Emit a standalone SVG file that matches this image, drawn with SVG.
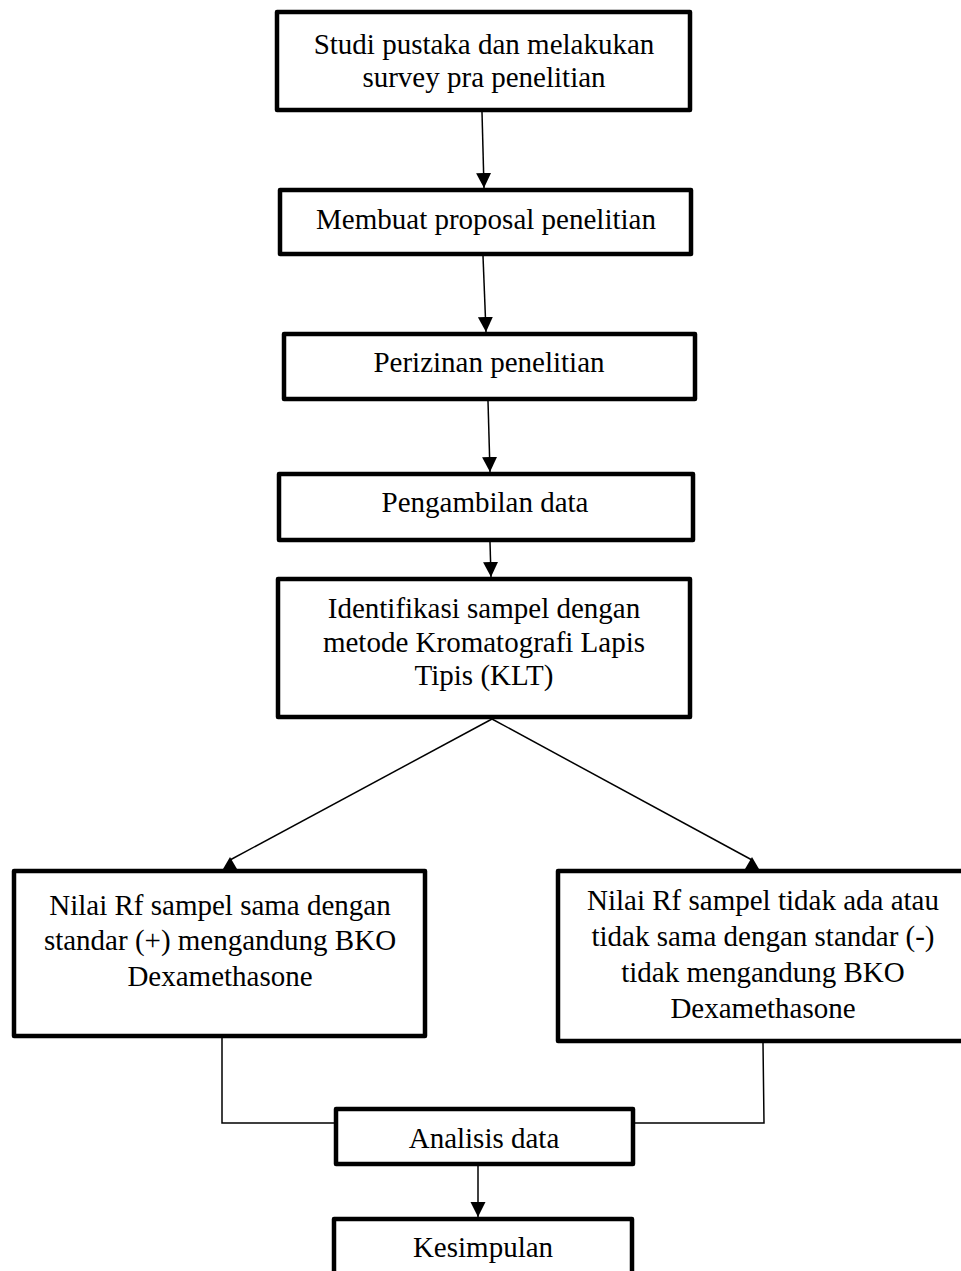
<svg xmlns="http://www.w3.org/2000/svg" width="961" height="1271" viewBox="0 0 961 1271">
  <style>
    .box { fill: #ffffff; stroke: #000000; stroke-width: 4.5; stroke-linejoin: round; }
    .lbl { font-family: "Liberation Serif", "Times New Roman", serif; font-size: 29px; fill: #000000; text-anchor: middle; }
    .conn { fill: none; stroke: #000000; stroke-width: 1.5; }
  </style>
  <defs>
    <marker id="arrow" markerUnits="userSpaceOnUse" markerWidth="16" markerHeight="16" refX="15" refY="7.5" orient="auto">
      <path d="M0,0 L15,7.5 L0,15 z" fill="#000000"/>
    </marker>
    <marker id="tri-up" markerUnits="userSpaceOnUse" markerWidth="16" markerHeight="16" refX="7" refY="3" orient="0">
      <path d="M0,12 L7,0 L14,12 z" fill="#000000"/>
    </marker>
  </defs>
  <rect x="0" y="0" width="961" height="1271" fill="#ffffff"/>

  <g id="connectors">
    <line class="conn" x1="482" y1="112" x2="484" y2="188" marker-end="url(#arrow)"/>
    <line class="conn" x1="483" y1="256" x2="486" y2="332" marker-end="url(#arrow)"/>
    <line class="conn" x1="488" y1="401" x2="490" y2="472" marker-end="url(#arrow)"/>
    <line class="conn" x1="490" y1="542" x2="491" y2="577" marker-end="url(#arrow)"/>
    <line class="conn" x1="492" y1="719" x2="230" y2="860" marker-end="url(#tri-up)"/>
    <line class="conn" x1="492" y1="719" x2="752" y2="860" marker-end="url(#tri-up)"/>
    <polyline class="conn" points="222,1038 222,1123 336,1123"/>
    <polyline class="conn" points="763,1043 764,1123 633,1123"/>
    <line class="conn" x1="478" y1="1166" x2="478" y2="1217" marker-end="url(#arrow)"/>
  </g>

  <g id="node-studi">
    <rect class="box" x="277" y="12" width="413" height="98"/>
    <text class="lbl" x="484" y="54">Studi pustaka dan melakukan</text>
    <text class="lbl" x="484" y="87">survey pra penelitian</text>
  </g>
  <g id="node-proposal">
    <rect class="box" x="280" y="190" width="411" height="64"/>
    <text class="lbl" x="486" y="229">Membuat proposal penelitian</text>
  </g>
  <g id="node-perizinan">
    <rect class="box" x="284" y="334" width="411" height="65"/>
    <text class="lbl" x="489" y="372">Perizinan penelitian</text>
  </g>
  <g id="node-pengambilan">
    <rect class="box" x="279" y="474" width="414" height="66"/>
    <text class="lbl" x="485" y="512">Pengambilan data</text>
  </g>
  <g id="node-identifikasi">
    <rect class="box" x="278" y="579" width="412" height="138"/>
    <text class="lbl" x="484" y="618">Identifikasi sampel dengan</text>
    <text class="lbl" x="484" y="652">metode Kromatografi Lapis</text>
    <text class="lbl" x="484" y="685">Tipis (KLT)</text>
  </g>
  <g id="node-positif">
    <rect class="box" x="14" y="871" width="411" height="165"/>
    <text class="lbl" x="220" y="915">Nilai Rf sampel sama dengan</text>
    <text class="lbl" x="220" y="950">standar (+) mengandung BKO</text>
    <text class="lbl" x="220" y="986">Dexamethasone</text>
  </g>
  <g id="node-negatif">
    <rect class="box" x="558" y="871" width="420" height="170"/>
    <text class="lbl" x="763" y="910">Nilai Rf sampel tidak ada atau</text>
    <text class="lbl" x="763" y="946">tidak sama dengan standar (-)</text>
    <text class="lbl" x="763" y="982">tidak mengandung BKO</text>
    <text class="lbl" x="763" y="1018">Dexamethasone</text>
  </g>
  <g id="node-analisis">
    <rect class="box" x="336" y="1109" width="297" height="55"/>
    <text class="lbl" x="484" y="1148">Analisis data</text>
  </g>
  <g id="node-kesimpulan">
    <rect class="box" x="334" y="1219" width="298" height="80"/>
    <text class="lbl" x="483" y="1257">Kesimpulan</text>
  </g>
</svg>
